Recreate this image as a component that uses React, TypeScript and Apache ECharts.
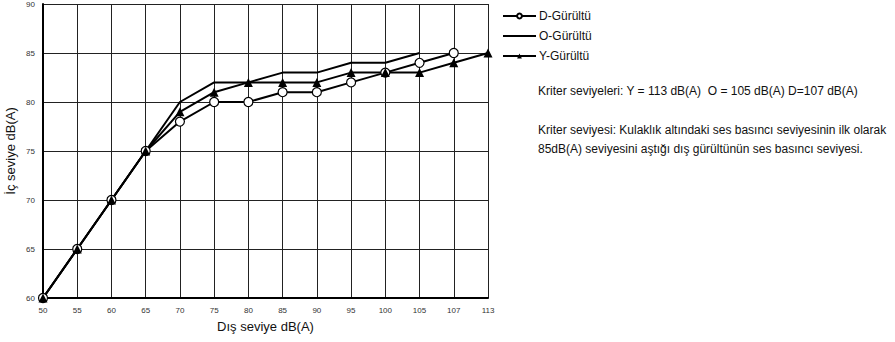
import React, { useEffect, useRef } from "react";
import * as echarts from "echarts";

const categories = ["50", "55", "60", "65", "70", "75", "80", "85", "90", "95", "100", "105", "107", "113"];
const dValues: (number | null)[] = [60, 65, 70, 75, 78, 80, 80, 81, 81, 82, 83, 84, 85, null];
const oValues: (number | null)[] = [60, 65, 70, 75, 80, 82, 82, 83, 83, 84, 84, 85, null, null];
const yValues: (number | null)[] = [60, 65, 70, 75, 79, 81, 82, 82, 82, 83, 83, 83, 84, 85];
const seriesNames = ["D-Gürültü", "O-Gürültü", "Y-Gürültü"];
const note1 = "Kriter seviyeleri: Y = 113 dB(A)  O = 105 dB(A) D=107 dB(A)";
const note2a = "Kriter seviyesi: Kulaklık altındaki ses basıncı seviyesinin ilk olarak";
const note2b = "85dB(A) seviyesini aştığı dış gürültünün ses basıncı seviyesi.";

const FONT = "'Liberation Sans', Arial, sans-serif";

export default function App() {
  const ref = useRef<HTMLDivElement>(null);
  useEffect(() => {
    if (!ref.current) return;
    const chart = echarts.init(ref.current, null, { renderer: "svg" });
    chart.setOption({
      animation: false,
      backgroundColor: "#fff",
      textStyle: { fontFamily: FONT },
      grid: { left: 43, right: 407, top: 4, bottom: 44, containLabel: false },
      legend: {
        orient: "vertical",
        left: 497,
        top: 5,
        itemWidth: 33,
        itemHeight: 6,
        itemGap: 8,
        data: [
          { name: seriesNames[0] },
          { name: seriesNames[1], itemStyle: { opacity: 0 } },
          { name: seriesNames[2] },
        ],
        textStyle: { fontSize: 12, color: "#111", fontFamily: FONT, padding: [0, 0, 0, -2] },
      },
      xAxis: {
        type: "category",
        data: categories,
        boundaryGap: false,
        name: "Dış seviye dB(A)",
        nameLocation: "middle",
        nameGap: 22,
        nameTextStyle: { fontSize: 13, color: "#111", fontFamily: FONT },
        axisLine: { lineStyle: { color: "#000", width: 2 } },
        axisTick: { show: false },
        axisLabel: { fontSize: 8, color: "#333", margin: 8, fontFamily: FONT },
        splitLine: { show: true, lineStyle: { color: "#222", width: 1 } },
      },
      yAxis: {
        type: "value",
        min: 60,
        max: 90,
        interval: 5,
        name: "İç seviye dB(A)",
        nameLocation: "middle",
        nameGap: 26,
        nameTextStyle: { fontSize: 13, color: "#111", fontFamily: FONT },
        axisLine: { show: true, lineStyle: { color: "#000", width: 2 } },
        axisTick: { show: false },
        axisLabel: { fontSize: 8, color: "#333", margin: 8, fontFamily: FONT },
        splitLine: { show: true, lineStyle: { color: "#222", width: 1 } },
      },
      series: [
        {
          name: seriesNames[0],
          type: "line",
          data: dValues,
          symbol: "circle",
          symbolSize: 9,
          lineStyle: { color: "#000", width: 2 },
          itemStyle: { color: "#fff", borderColor: "#000", borderWidth: 1.2 },
        },
        {
          name: seriesNames[1],
          type: "line",
          data: oValues,
          symbol: "none",
          showSymbol: false,
          lineStyle: { color: "#000", width: 2 },
          itemStyle: { color: "#000" },
        },
        {
          name: seriesNames[2],
          type: "line",
          data: yValues,
          symbol: "triangle",
          symbolSize: 9,
          lineStyle: { color: "#000", width: 2 },
          itemStyle: { color: "#000" },
        },
      ],
      graphic: [
        { type: "text", left: 538, top: 85, style: { text: note1, font: `12px ${FONT}`, fill: "#111" } },
        { type: "text", left: 538, top: 124, style: { text: note2a, font: `12px ${FONT}`, fill: "#111" } },
        { type: "text", left: 538, top: 143, style: { text: note2b, font: `12px ${FONT}`, fill: "#111" } },
      ],
    });
    return () => chart.dispose();
  }, []);
  return <div ref={ref} style={{ width: 895, height: 342, position: "absolute", left: 0, top: 0 }} />;
}
